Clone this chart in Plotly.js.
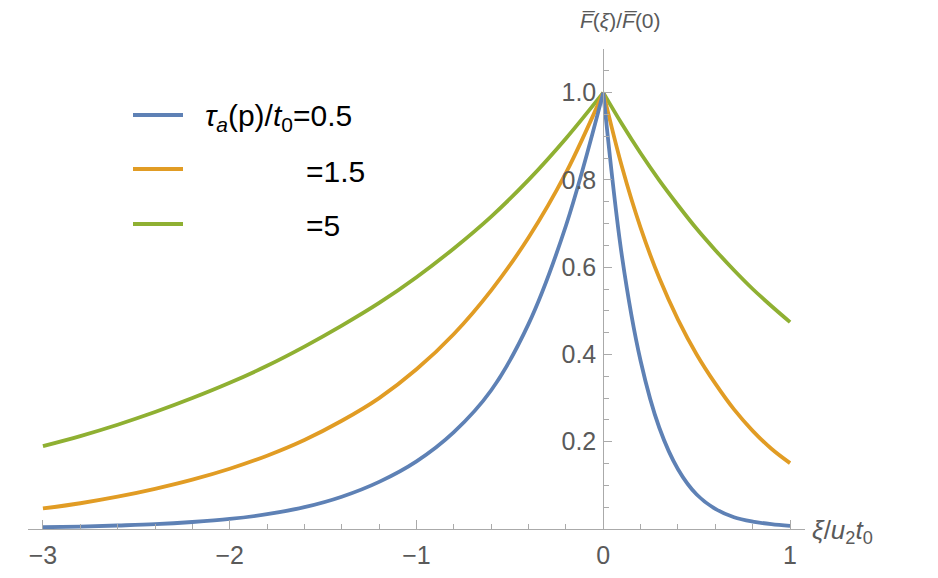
<!DOCTYPE html>
<html>
<head>
<meta charset="utf-8">
<script src="https://cdn.plot.ly/plotly-3.0.1.min.js"></script>
<style>html,body{margin:0;padding:0;background:#fff;}#chart{width:938px;height:578px;}</style>
</head>
<body>
<div id="chart"></div>
<script>
// ---- data ----
const leftX  = [-3, -2.8, -2.6, -2.4, -2.2, -2, -1.8, -1.6, -1.4, -1.2, -1, -0.8, -0.6, -0.4, -0.2, 0];
const rightX = [0, 0.1, 0.2, 0.3, 0.4, 0.5, 0.6, 0.7, 0.8, 0.9, 1.0];
// blue: tau_a(p)/t0 = 0.5
const blueLeftY  = [0.004, 0.0055, 0.008, 0.011, 0.016, 0.023, 0.034, 0.05, 0.074, 0.108, 0.155, 0.222, 0.318, 0.47, 0.695, 1.0];
const blueRightY = [1.0, 0.625, 0.385, 0.232, 0.137, 0.079, 0.046, 0.027, 0.017, 0.011, 0.007];
// orange: = 1.5
const orangeLeftY  = [0.047, 0.059, 0.074, 0.092, 0.113, 0.138, 0.168, 0.204, 0.248, 0.3, 0.366, 0.447, 0.547, 0.668, 0.816, 1.0];
const orangeRightY = [1.0, 0.83, 0.69, 0.575, 0.48, 0.40, 0.333, 0.274, 0.225, 0.184, 0.151];
// green: = 5
const greenLeftY  = [0.19, 0.213, 0.239, 0.268, 0.3, 0.335, 0.374, 0.418, 0.466, 0.518, 0.577, 0.643, 0.716, 0.80, 0.895, 1.0];
const greenRightY = [1.0, 0.928, 0.861, 0.799, 0.742, 0.688, 0.639, 0.593, 0.55, 0.511, 0.474];

const xTickVals = [-3, -2, -1, 0, 1];
const xTickText = ['\u22123', '\u22122', '\u22121', '0', '1'];
const yTickVals = [0.2, 0.4, 0.6, 0.8, 1.0];
const yTickText = ['0.2', '0.4', '0.6', '0.8', '1.0'];
const legendLabels = ['<i>\u03c4</i><sub><i>a</i></sub>(p)/<i>t</i><sub>0</sub>=0.5', '=1.5', '=5'];

// ---- styling ----
const colors = ['#5E81B5', '#E19C24', '#8FB032'];
const W = 938, H = 578;
const mL = 28, mR = 133, mT = 49, mB = 49;
const xRange = [-3.08, 1.08];
const yRange = [0, 1.1];
const plotW = W - mL - mR, plotH = H - mT - mB;
const px = v => (v - mL) / plotW;          // pixel x -> paper
const py = v => (H - mB - v) / plotH;      // pixel y -> paper
const yAxisPos = (0 - xRange[0]) / (xRange[1] - xRange[0]);

function branch(x, y, c) {
  return {x: x, y: y, type: 'scatter', mode: 'lines',
          line: {color: c, width: 3.8, shape: 'spline', smoothing: 1},
          showlegend: false, hoverinfo: 'skip'};
}
const traces = [
  branch(leftX, greenLeftY, colors[2]), branch(rightX, greenRightY, colors[2]),
  branch(leftX, orangeLeftY, colors[1]), branch(rightX, orangeRightY, colors[1]),
  branch(leftX, blueLeftY, colors[0]), branch(rightX, blueRightY, colors[0])
];

const axisCol = '#aaaaaa';
const labCol = '#5a5a5a';
const tickFont = {family: 'Liberation Sans, Arial, sans-serif', size: 25, color: labCol};

const legendRowsY = [115, 169, 224];
const shapes = legendRowsY.map((yy, i) => ({
  type: 'line', xref: 'paper', yref: 'paper',
  x0: px(133), x1: px(183), y0: py(yy), y1: py(yy),
  line: {color: colors[i], width: 3.8}
}));
const legFont = {family: 'Liberation Sans, Arial, sans-serif', size: 30, color: '#000'};
const annotations = [
  {xref: 'paper', yref: 'paper', x: px(203), y: py(117), xanchor: 'left', yanchor: 'middle',
   text: legendLabels[0], showarrow: false, font: legFont},
  {xref: 'paper', yref: 'paper', x: px(304), y: py(171), xanchor: 'left', yanchor: 'middle',
   text: legendLabels[1], showarrow: false, font: legFont},
  {xref: 'paper', yref: 'paper', x: px(304), y: py(225), xanchor: 'left', yanchor: 'middle',
   text: legendLabels[2], showarrow: false, font: legFont},
  {xref: 'paper', yref: 'paper', x: px(578), y: py(20), xanchor: 'left', yanchor: 'middle',
   text: '<i>F\u0305</i>(<i>\u03be</i>)/<i>F\u0305</i>(0)', showarrow: false,
   font: {family: 'Liberation Sans, Arial, sans-serif', size: 21, color: labCol}},
  {xref: 'paper', yref: 'paper', x: px(810), y: py(531), xanchor: 'left', yanchor: 'middle',
   text: '<i>\u03be</i>/<i>u</i><sub>2</sub><i>t</i><sub>0</sub>', showarrow: false,
   font: {family: 'Liberation Sans, Arial, sans-serif', size: 26, color: labCol}}
];

const layout = {
  width: W, height: H,
  margin: {l: mL, r: mR, t: mT, b: mB, pad: 0},
  paper_bgcolor: '#fff', plot_bgcolor: '#fff',
  showlegend: false,
  xaxis: {range: xRange, showgrid: false, zeroline: false, showline: true,
          linecolor: axisCol, linewidth: 1.2,
          ticks: 'inside', ticklen: 9, tickwidth: 1, tickcolor: axisCol,
          tickvals: xTickVals, ticktext: xTickText, tickfont: tickFont,
          ticklabelstandoff: 4,
          minor: {dtick: 0.2, tick0: 0, ticks: 'inside', ticklen: 5, tickwidth: 1, tickcolor: axisCol, showgrid: false},
          fixedrange: true},
  yaxis: {range: yRange, showgrid: false, zeroline: false, showline: true,
          linecolor: axisCol, linewidth: 1.2,
          anchor: 'free', position: yAxisPos, side: 'left',
          ticks: 'inside', ticklen: 8, tickwidth: 1, tickcolor: axisCol,
          tickvals: yTickVals, ticktext: yTickText, tickfont: tickFont,
          ticklabelstandoff: 2,
          minor: {dtick: 0.05, tick0: 0, ticks: 'inside', ticklen: 5, tickwidth: 1, tickcolor: axisCol, showgrid: false},
          fixedrange: true},
  shapes: shapes,
  annotations: annotations
};

Plotly.newPlot('chart', traces, layout, {displayModeBar: false, staticPlot: true});
</script>
</body>
</html>
